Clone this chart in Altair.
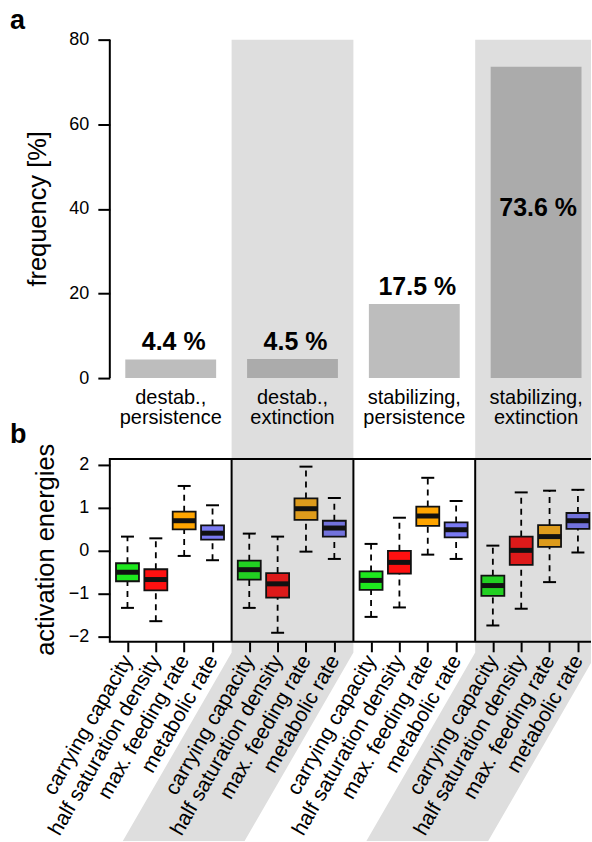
import math
import altair as alt
import pandas as pd

# ---------------- data ----------------
categories = ["destab.,\npersistence", "destab.,\nextinction",
              "stabilizing,\npersistence", "stabilizing,\nextinction"]
frequency = [4.4, 4.5, 17.5, 73.6]
variables = ["carrying capacity", "half saturation density",
             "max. feeding rate", "metabolic rate"]

# box statistics: one list per scenario (order of `categories`), one value per variable
whisker_low = [[-1.33, -1.64, -0.12, -0.22],
               [-1.33, -1.91, -0.02, -0.19],
               [-1.54, -1.32, -0.09, -0.19],
               [-1.74, -1.35, -0.73, -0.04]]
quartile_1 = [[-0.71, -0.92, 0.50, 0.26],
              [-0.67, -1.09, 0.72, 0.33],
              [-0.91, -0.53, 0.58, 0.31],
              [-1.05, -0.33, 0.09, 0.51]]
median = [[-0.50, -0.67, 0.70, 0.41],
          [-0.44, -0.77, 0.98, 0.53],
          [-0.69, -0.27, 0.81, 0.49],
          [-0.81, 0.01, 0.33, 0.70]]
quartile_3 = [[-0.29, -0.43, 0.91, 0.59],
              [-0.23, -0.52, 1.22, 0.70],
              [-0.48, 0.00, 1.03, 0.66],
              [-0.58, 0.33, 0.60, 0.88]]
whisker_high = [[0.33, 0.29, 1.51, 1.06],
                [0.40, 0.33, 1.96, 1.23],
                [0.16, 0.77, 1.70, 1.16],
                [0.12, 1.36, 1.40, 1.42]]
axis_titles = ["frequency [%]", "activation energies"]

# ---------------- styling / layout ----------------
FONT = "Liberation Sans"
BAND = "#dedede"
BAR_LIGHT, BAR_DARK = "#bdbdbd", "#ababab"
BOX_LIGHT = ["#1ee81e", "#ff1010", "#ffa500", "#7a7af2"]
BOX_DARK = ["#22d022", "#dd1a1a", "#dd9b1c", "#7272dc"]

W = 592
COL_PX = 122.0
X0_PX = 110.0
XDOM = [-X0_PX / COL_PX, (W - X0_PX) / COL_PX]

A_H = 440
A_PPU = (378 - 39) / 80.0
A_DOM = [-(A_H - 378) / A_PPU, 80 + 39 / A_PPU]

B_H = 842 - A_H
B_PPU = 43.0
B_DOM = [-2 - (842 - 637) / B_PPU, 2 + (465 - A_H) / B_PPU]
Y_LO, Y_HI = -2.12, 2.14
SLANT_TOP = 2 - (653 - 465) / B_PPU
SLANT_DX = (SLANT_TOP - B_DOM[0]) * B_PPU / math.tan(math.radians(60)) / COL_PX
XB_OFF = -(B_H - (B_DOM[1] - Y_LO) * B_PPU)

BAR_HALF = 45.5 / COL_PX
BOX_HALF = 11.5 / COL_PX
CAP_HALF = 6.5 / COL_PX
BOX_OFFS = [0.145 + k * 0.2328 for k in range(4)]
TITLE_SIZE = 25.5

n = len(categories)
shaded = [i % 2 == 1 for i in range(n)]

# ---------------- panel a ----------------
SXA = alt.Scale(domain=XDOM, nice=False, zero=False)
SYA = alt.Scale(domain=A_DOM, nice=False, zero=False)
ya_axis = alt.Axis(values=[0, 20, 40, 60, 80], offset=-X0_PX, domain=False, grid=False,
                   tickSize=12, tickWidth=2, tickColor="black", zindex=2,
                   labelFont=FONT, labelFontSize=18, labelPadding=9, labelColor="black",
                   title=None)


def XA(f):
    return alt.X(f + ":Q", scale=SXA, axis=None)


def YA(f):
    return alt.Y(f + ":Q", scale=SYA, axis=ya_axis)


bands_a = pd.DataFrame([{"x": i, "x2": i + 1, "y": A_DOM[0], "y2": 80}
                        for i in range(n) if shaded[i]])
bars_df = pd.DataFrame({
    "x": [i + 0.5 - BAR_HALF for i in range(n)],
    "x2": [i + 0.5 + BAR_HALF for i in range(n)],
    "xc": [i + 0.5 for i in range(n)],
    "y": [0.0] * n,
    "y2": frequency,
    "fill": [BAR_DARK if s else BAR_LIGHT for s in shaded],
    "label": [f"{v:.1f} %" for v in frequency],
    "cat": categories,
})
bars_df["ymid"] = bars_df["y2"] / 2

layer_bands_a = alt.Chart(bands_a).mark_rect(color=BAND, clip=True).encode(
    x=XA("x"), x2="x2:Q", y=YA("y"), y2="y2:Q")
layer_bars = alt.Chart(bars_df).mark_rect().encode(
    x=XA("x"), x2="x2:Q", y=YA("y"), y2="y2:Q",
    fill=alt.Fill("fill:N", scale=None))
small = bars_df[bars_df["y2"] < 50]
large = bars_df[bars_df["y2"] >= 50]
layer_lab_small = alt.Chart(small).mark_text(
    font=FONT, fontSize=25, fontWeight="bold", baseline="alphabetic", dy=-9, dx=3,
    color="black"
).encode(x=XA("xc"), y=YA("y2"), text="label:N")
layer_lab_large = alt.Chart(large).mark_text(
    font=FONT, fontSize=25, fontWeight="bold", baseline="middle", dy=-14, dx=2,
    color="black"
).encode(x=XA("xc"), y=YA("ymid"), text="label:N")
layer_cat = alt.Chart(bars_df).mark_text(
    font=FONT, fontSize=20, baseline="top", dy=10, lineBreak="\n", lineHeight=20,
    color="black"
).encode(x=XA("xc"), y=YA("y"), text="cat:N")
axis_line = pd.DataFrame({"x": [0.0], "y": [0.0], "y2": [80.0]})
layer_axis_line = alt.Chart(axis_line).mark_rule(color="black", strokeWidth=2).encode(
    x=XA("x"), y=YA("y"), y2="y2:Q")
panel_labels = pd.DataFrame({"t": ["a", "b"], "py": [28, 443]})
layer_letters = alt.Chart(panel_labels).mark_text(
    font=FONT, fontSize=27, fontWeight="bold", align="left", baseline="alphabetic",
    color="black"
).encode(x=alt.value(10), y=alt.Y("py:Q", scale=None), text="t:N")
layer_title_a = alt.Chart(pd.DataFrame({"t": [axis_titles[0]]})).mark_text(
    font=FONT, fontSize=TITLE_SIZE, angle=270, align="center", baseline="alphabetic",
    color="black"
).encode(x=alt.value(46), y=alt.value(208.5), text="t:N")

panel_a = alt.layer(layer_bands_a, layer_bars, layer_lab_small, layer_lab_large,
                    layer_cat, layer_axis_line, layer_letters,
                    layer_title_a).properties(width=W, height=A_H)

# ---------------- panel b ----------------
positions = [g + BOX_OFFS[j] for g in range(n) for j in range(4)]
SXB = alt.Scale(domain=XDOM, nice=False, zero=False)
SYB = alt.Scale(domain=B_DOM, nice=False, zero=False)
names_js = "[" + ",".join("'" + v + "'" for v in variables) + "]"
xb_axis = alt.Axis(values=positions, orient="bottom", offset=XB_OFF, domain=False, grid=False,
                   tickSize=10, tickWidth=2, tickColor="black", zindex=2,
                   labelAngle=-60, labelAlign="right", labelBaseline="middle",
                   labelFont=FONT, labelFontSize=21, labelPadding=5, labelColor="black",
                   labelLimit=400, labelOverlap=False, labelFlush=False, labelBound=False,
                   labelExpr=f"{names_js}[round((datum.value - floor(datum.value) - {BOX_OFFS[0]}) / {BOX_OFFS[1]-BOX_OFFS[0]})]",
                   title=None)
yb_axis = alt.Axis(values=[-2, -1, 0, 1, 2], offset=-X0_PX, domain=False, grid=False,
                   tickSize=12, tickWidth=2, tickColor="black", zindex=2,
                   labelFont=FONT, labelFontSize=18, labelPadding=9, labelColor="black",
                   title=None)


def XB(f):
    return alt.X(f + ":Q", scale=SXB, axis=xb_axis, stack=None)


def YB(f):
    return alt.Y(f + ":Q", scale=SYB, axis=yb_axis)


band_rows = []
for i in range(n):
    if shaded[i]:
        band_rows += [
            {"band": i, "y": B_DOM[1], "x": i, "x2": i + 1},
            {"band": i, "y": SLANT_TOP, "x": i, "x2": i + 1},
            {"band": i, "y": B_DOM[0], "x": i - SLANT_DX, "x2": i + 1 - SLANT_DX},
        ]
bands_b = pd.DataFrame(band_rows)
layer_bands_b = alt.Chart(bands_b).mark_area(color=BAND, orient="horizontal", clip=True).encode(
    y=YB("y"), x=XB("x"), x2="x2:Q", detail="band:N")

frame_df = pd.DataFrame({"x": [0.0], "x2": [float(n)], "y": [Y_LO], "y2": [Y_HI]})
layer_frame = alt.Chart(frame_df).mark_rect(fill=None, fillOpacity=0, stroke="black",
                                           strokeWidth=2, clip=True).encode(
    x=XB("x"), x2="x2:Q", y=YB("y"), y2="y2:Q")
sep_df = pd.DataFrame({"x": [float(i) for i in range(1, n)],
                       "y": [Y_LO] * (n - 1), "y2": [Y_HI] * (n - 1)})
layer_sep = alt.Chart(sep_df).mark_rule(color="black", strokeWidth=2).encode(
    x=XB("x"), y=YB("y"), y2="y2:Q")

rows = []
for g in range(n):
    for j in range(4):
        p = g + BOX_OFFS[j]
        rows.append({
            "x": p, "xl": p - BOX_HALF, "xr": p + BOX_HALF,
            "cl": p - CAP_HALF, "cr": p + CAP_HALF,
            "lo": whisker_low[g][j], "q1": quartile_1[g][j], "med": median[g][j],
            "q3": quartile_3[g][j], "hi": whisker_high[g][j],
            "fill": (BOX_DARK if shaded[g] else BOX_LIGHT)[j],
        })
box_df = pd.DataFrame(rows)
base = alt.Chart(box_df)
layer_wh_up = base.mark_rule(color="black", strokeWidth=1.8, strokeDash=[6, 5]).encode(
    x=XB("x"), y=YB("q3"), y2="hi:Q")
layer_wh_dn = base.mark_rule(color="black", strokeWidth=1.8, strokeDash=[6, 5]).encode(
    x=XB("x"), y=YB("lo"), y2="q1:Q")
layer_cap_hi = base.mark_rule(color="black", strokeWidth=2).encode(
    x=XB("cl"), x2="cr:Q", y=YB("hi"))
layer_cap_lo = base.mark_rule(color="black", strokeWidth=2).encode(
    x=XB("cl"), x2="cr:Q", y=YB("lo"))
layer_box = base.mark_rect(stroke="#111111", strokeWidth=1.8).encode(
    x=XB("xl"), x2="xr:Q", y=YB("q1"), y2="q3:Q", fill=alt.Fill("fill:N", scale=None))
layer_med = base.mark_rule(color="#111111", strokeWidth=5).encode(
    x=XB("xl"), x2="xr:Q", y=YB("med"))
layer_title_b = alt.Chart(pd.DataFrame({"t": [axis_titles[1]]})).mark_text(
    font=FONT, fontSize=TITLE_SIZE, angle=270, align="center", baseline="alphabetic",
    color="black"
).encode(x=alt.value(54), y=alt.value(110), text="t:N")

panel_b = alt.layer(layer_bands_b, layer_frame, layer_sep, layer_wh_up, layer_wh_dn,
                    layer_cap_hi, layer_cap_lo, layer_box, layer_med,
                    layer_title_b).properties(width=W, height=B_H)

chart = alt.vconcat(panel_a, panel_b, spacing=0, bounds="flush").properties(
    padding=0, background="white"
).configure_view(strokeWidth=0)

chart.save("out.html", embed_options={"renderer": "svg", "actions": False})
